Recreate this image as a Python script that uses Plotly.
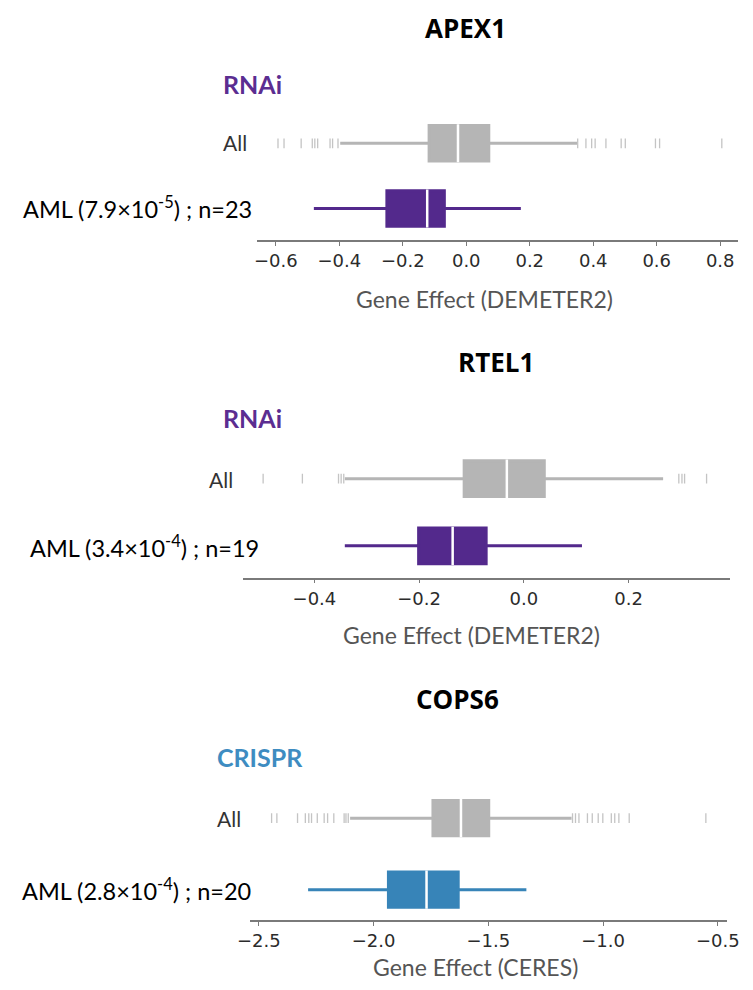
import plotly.graph_objects as go

OFF = 8                      # default page margin around the figure
W, H = 753 - OFF, 990 - 2 * OFF

genes = ["APEX1", "RTEL1", "COPS6"]
screens = ["RNAi", "RNAi", "CRISPR"]
screen_colors = ["#5b2d91", "#5b2d91", "#3e8cc1"]
box_colors = ["#53298c", "#53298c", "#3784b8"]
aml_labels = [
    "AML (7.9×10<sup>-5</sup>) ; n=23",
    "AML (3.4×10<sup>-4</sup>) ; n=19",
    "AML (2.8×10<sup>-4</sup>) ; n=20",
]
axis_titles = ["Gene Effect (DEMETER2)", "Gene Effect (DEMETER2)", "Gene Effect (CERES)"]
row_labels = ["All", "AML"]

# box statistics: [lowerfence, q1, median, q3, upperfence]
all_stats = [
    [-0.397, -0.117, -0.026, 0.071, 0.349],
    [-0.342, -0.114, -0.0325, 0.039, 0.266],
    [-2.102, -1.741, -1.619, -1.498, -1.137],
]
aml_stats = [
    [-0.480, -0.250, -0.123, -0.069, 0.172],
    [-0.342, -0.201, -0.136, -0.072, 0.111],
    [-2.285, -1.935, -1.769, -1.631, -1.334],
]
all_outliers = [
    [-0.593, -0.574, -0.520, -0.485, -0.477, -0.468, -0.429, -0.421, -0.404,
     0.351, 0.377, 0.395, 0.406, 0.440, 0.488, 0.501, 0.596, 0.609, 0.805],
    [-0.498, -0.423, -0.354, -0.349, -0.344, 0.296, 0.302, 0.307, 0.349],
    [-2.444, -2.421, -2.331, -2.297, -2.282, -2.270, -2.245, -2.215, -2.200, -2.173,
     -2.128, -2.120, -2.110, -1.133, -1.120, -1.105, -1.068, -1.047, -1.021, -1.001,
     -0.964, -0.949, -0.931, -0.886, -0.552],
]
x_ranges = [[-0.6597, 0.8563], [-0.5372, 0.3939], [-2.5379, -0.4579]]
x_dticks = [0.2, 0.2, 0.5]

# layout geometry (target pixels in the screenshot)
x_dom_px = [(252, 750), (237.3, 741.7), (245, 739)]
y_dom_px = [(104, 240), (440, 577.7), (780, 920)]
y_ranges = [[-0.483, 1.603], [-0.475, 1.577], [-0.424, 1.534]]
box_w = [0.543, 0.532, 0.494]

title_pos = [(467.5, 28), (499.5, 362), (460, 699)]
screen_pos = [(215, 84), (215, 418), (209, 757)]
all_pos = [(244, 143), (229, 479), (238, 818)]
aml_pos = [(8, 208), (15, 546), (7, 889)]
axtitle_pos = [(488, 299), (474, 635), (478, 967)]

GRAY = "#b5b5b5"
OUTLIER = "#c4c4c4"

fig = go.Figure()

def px2x(px):
    return (px - OFF) / W

def px2y(py):
    return 1 - (py - OFF) / H

for i in range(3):
    xa = "x" if i == 0 else f"x{i+1}"
    ya = "y" if i == 0 else f"y{i+1}"
    for pos, stats, col in [(1, all_stats[i], GRAY), (0, aml_stats[i], box_colors[i])]:
        lo, q1, med, q3, hi = stats
        fig.add_trace(go.Box(
            y=[pos], q1=[q1], median=[med], q3=[q3], lowerfence=[lo], upperfence=[hi],
            orientation="h", width=box_w[i], whiskerwidth=0,
            fillcolor=col, line=dict(color=col, width=3),
            boxpoints=False, hoverinfo="skip", showlegend=False,
            xaxis=xa, yaxis=ya,
        ))
        half = box_w[i] / 2
        fig.add_trace(go.Scatter(
            x=[med, med], y=[pos - half - 0.02, pos + half + 0.02], mode="lines",
            line=dict(color="white", width=2.5), hoverinfo="skip", showlegend=False,
            xaxis=xa, yaxis=ya,
        ))
    fig.add_trace(go.Scatter(
        x=all_outliers[i], y=[1] * len(all_outliers[i]), mode="markers",
        marker=dict(symbol="line-ns", size=7, line=dict(color=OUTLIER, width=1.3)),
        hoverinfo="skip", showlegend=False, xaxis=xa, yaxis=ya,
    ))

layout = dict(
    width=W, height=H, margin=dict(l=0, r=0, t=0, b=0),
    paper_bgcolor="white", plot_bgcolor="white",
)
annotations = []
for i in range(3):
    xk = "xaxis" if i == 0 else f"xaxis{i+1}"
    yk = "yaxis" if i == 0 else f"yaxis{i+1}"
    layout[xk] = dict(
        domain=[px2x(x_dom_px[i][0]), min(1.0, px2x(x_dom_px[i][1]))],
        range=x_ranges[i], dtick=x_dticks[i], tick0=0, tickformat=".1f",
        showline=True, linecolor="#7a7a7a", linewidth=1.5,
        ticks="outside", ticklen=4, tickwidth=1.2, tickcolor="#7a7a7a",
        ticklabeloverflow="allow",
        showgrid=False, zeroline=False,
        tickfont=dict(family="DejaVu Sans", size=18, color="#2b2b2b"),
        anchor="y" if i == 0 else f"y{i+1}", fixedrange=True,
    )
    layout[yk] = dict(
        domain=[px2y(y_dom_px[i][1]), px2y(y_dom_px[i][0])],
        range=y_ranges[i], visible=False, showgrid=False, zeroline=False,
        anchor="x" if i == 0 else f"x{i+1}", fixedrange=True,
    )
    annotations += [
        dict(text=f"<b>{genes[i]}</b>", x=px2x(title_pos[i][0]), y=px2y(title_pos[i][1]),
             xanchor="center", yanchor="middle",
             font=dict(family="Open Sans", size=26, color="black")),
        dict(text=f"<b>{screens[i]}</b>", x=px2x(screen_pos[i][0]), y=px2y(screen_pos[i][1]),
             xanchor="left", yanchor="middle",
             font=dict(family="Lato", size=25, color=screen_colors[i])),
        dict(text=row_labels[0], x=px2x(all_pos[i][0]), y=px2y(all_pos[i][1]),
             xanchor="right", yanchor="middle",
             font=dict(family="Lato", size=21, color="#333333")),
        dict(text=aml_labels[i], x=px2x(aml_pos[i][0]), y=px2y(aml_pos[i][1]),
             xanchor="left", yanchor="middle",
             font=dict(family="Lato", size=23.5, color="black")),
        dict(text=axis_titles[i], x=px2x(axtitle_pos[i][0]), y=px2y(axtitle_pos[i][1]),
             xanchor="center", yanchor="middle",
             font=dict(family="Lato", size=23, color="#555555")),
    ]
for a in annotations:
    a.update(xref="paper", yref="paper", showarrow=False)
layout["annotations"] = annotations

fig.update_layout(**layout)
fig.write_html("out.html")
